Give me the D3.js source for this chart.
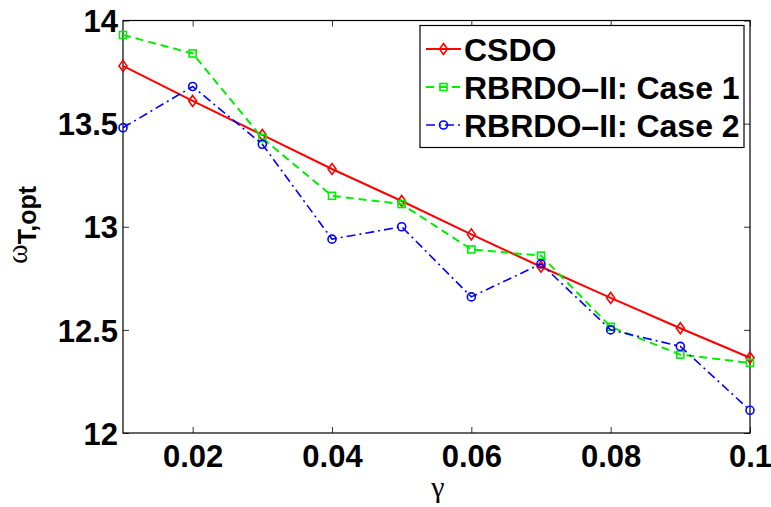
<!DOCTYPE html>
<html>
<head>
<meta charset="utf-8">
<script src="https://cdn.jsdelivr.net/npm/d3@7"></script>
<style>
  html, body { margin: 0; padding: 0; background: #fff; }
  svg { display: block; }
</style>
</head>
<body>
<svg id="chart" width="771" height="507"></svg>
<script>
const gammaValues = [0.01, 0.02, 0.03, 0.04, 0.05, 0.06, 0.07, 0.08, 0.09, 0.10];
const csdo   = [13.78, 13.61, 13.445, 13.28, 13.125, 12.963, 12.806, 12.655, 12.508, 12.365];
const case1  = [13.93, 13.84, 13.43, 13.15, 13.11, 12.89, 12.86, 12.515, 12.38, 12.34];
const case2  = [13.48, 13.68, 13.40, 12.94, 13.00, 12.66, 12.82, 12.50, 12.42, 12.11];
const seriesNames = ["CSDO", "RBRDO\u2013II: Case 1", "RBRDO\u2013II: Case 2"];
const xTicks = [0.02, 0.04, 0.06, 0.08, 0.1];
const xTickLabels = ["0.02", "0.04", "0.06", "0.08", "0.1"];
const yTicks = [12, 12.5, 13, 13.5, 14];
const yTickLabels = ["12", "12.5", "13", "13.5", "14"];

const svg = d3.select("#chart");
const L = 123, R = 750, T = 20.5, B = 433;
const x = d3.scaleLinear().domain([0.01, 0.1]).range([L, R]);
const y = d3.scaleLinear().domain([12, 14]).range([B, T]);

const font = "'Liberation Sans', Arial, sans-serif";

const tickLen = 6;
const axB = d3.axisBottom(x).tickValues(xTicks).tickSizeInner(-tickLen).tickSizeOuter(0).tickFormat((d,i)=>xTickLabels[i]);
const axT = d3.axisTop(x).tickValues(xTicks).tickSizeInner(-tickLen).tickSizeOuter(0).tickFormat("");
const axL = d3.axisLeft(y).tickValues(yTicks).tickSizeInner(-tickLen).tickSizeOuter(0).tickFormat((d,i)=>yTickLabels[i]);
const axR = d3.axisRight(y).tickValues(yTicks).tickSizeInner(-tickLen).tickSizeOuter(0).tickFormat("");

function styleAxis(g) {
  g.select(".domain").remove();
  g.selectAll(".tick line").attr("stroke", "#333").attr("stroke-width", 1);
  g.selectAll(".tick text").attr("font-family", font).attr("font-weight", "bold")
    .attr("font-size", 31).attr("fill", "#000");
}
const gB = svg.append("g").attr("transform", `translate(0,${B})`).call(axB).call(styleAxis);
gB.selectAll(".tick text").attr("dy", null).attr("y", 34);
svg.append("g").attr("transform", `translate(0,${T})`).call(axT).call(styleAxis);
const gL = svg.append("g").attr("transform", `translate(${L},0)`).call(axL).call(styleAxis);
gL.selectAll(".tick text").attr("x", -5).attr("dy", "0.36em");
svg.append("g").attr("transform", `translate(${R},0)`).call(axR).call(styleAxis);

svg.append("rect").attr("x", L).attr("y", T).attr("width", R - L).attr("height", B - T)
  .attr("fill", "none").attr("stroke", "#000").attr("stroke-width", 1.2);

const series = [
  { name: seriesNames[0], values: csdo,  color: "#ff0000", dash: null,      width: 2,   marker: "diamond" },
  { name: seriesNames[1], values: case1, color: "#00ee00", dash: "8,5",     width: 2,   marker: "square" },
  { name: seriesNames[2], values: case2, color: "#0000ff", dash: "9,4,2,4", width: 1.6, marker: "circle" }
];

const line = d3.line().x((d,i)=>x(gammaValues[i])).y(d=>y(d));

function drawMarker(g, type, cx, cy, color) {
  if (type === "diamond") {
    g.append("path").attr("d", `M${cx},${cy-5.5}L${cx+4},${cy}L${cx},${cy+5.5}L${cx-4},${cy}Z`)
      .attr("fill", "none").attr("stroke", color).attr("stroke-width", 1.6);
  } else if (type === "square") {
    g.append("rect").attr("x", cx-3.5).attr("y", cy-3.5).attr("width", 7).attr("height", 7)
      .attr("fill", "none").attr("stroke", color).attr("stroke-width", 1.6);
  } else {
    g.append("circle").attr("cx", cx).attr("cy", cy).attr("r", 4)
      .attr("fill", "none").attr("stroke", color).attr("stroke-width", 1.6);
  }
}

series.forEach(s => {
  const g = svg.append("g");
  g.append("path").datum(s.values).attr("d", line)
    .attr("fill", "none").attr("stroke", s.color).attr("stroke-width", s.width)
    .attr("stroke-dasharray", s.dash);
  s.values.forEach((v,i)=> drawMarker(g, s.marker, x(gammaValues[i]), y(v), s.color));
});

const lg = svg.append("g");
lg.append("rect").attr("x", 420).attr("y", 25.5).attr("width", 324).attr("height", 122)
  .attr("fill", "#fff").attr("stroke", "#000").attr("stroke-width", 1.2);
series.forEach((s, i) => {
  const cy = 49 + i * 38;
  lg.append("line").attr("x1", 426).attr("x2", 461).attr("y1", cy).attr("y2", cy)
    .attr("stroke", s.color).attr("stroke-width", s.width).attr("stroke-dasharray", s.dash);
  drawMarker(lg, s.marker, 443.5, cy, s.color);
  lg.append("text").attr("x", 464).attr("y", cy).attr("dy", "0.36em")
    .attr("font-family", font).attr("font-weight", "bold").attr("font-size", 32)
    .attr("fill", "#000").text(s.name);
});

svg.append("text").attr("x", 438).attr("y", 497).attr("text-anchor", "middle")
  .attr("font-family", "'Liberation Serif', 'DejaVu Serif', serif").attr("font-size", 30)
  .attr("fill", "#000").text("\u03b3");

const yl = svg.append("text").attr("transform", "translate(27,225) rotate(-90)")
  .attr("text-anchor", "middle").attr("fill", "#000");
yl.append("tspan").attr("font-family", "'Liberation Serif', 'DejaVu Serif', serif").attr("font-size", 30).text("\u03c9");
yl.append("tspan").attr("font-family", font).attr("font-weight", "bold").attr("font-size", 25)
  .attr("dy", 9).text("T,opt");
</script>
</body>
</html>
